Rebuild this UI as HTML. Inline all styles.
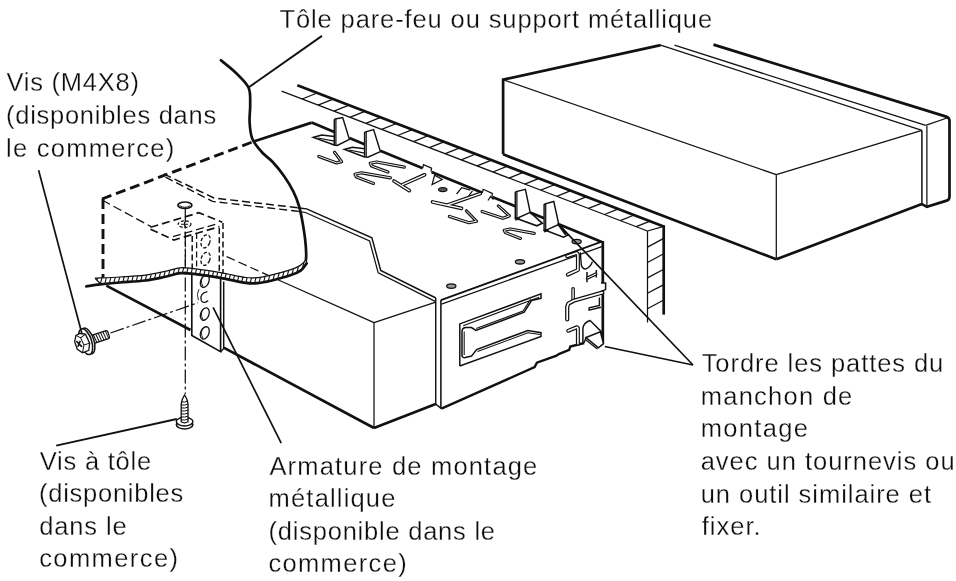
<!DOCTYPE html>
<html lang="fr"><head><meta charset="utf-8"><title>Installation</title>
<style>
html,body{margin:0;padding:0;background:#fff}
svg{display:block}
text{font-family:"Liberation Sans",sans-serif;font-size:25.5px;fill:#0d0d0d;stroke:#fff;stroke-width:0.28px;paint-order:fill stroke}
</style></head><body>
<svg width="956" height="581" viewBox="0 0 956 581">
<rect width="956" height="581" fill="#fff"/>
<g stroke="#111" fill="none">
<polyline points="503.1,154.3 503.1,79.7 660.7,45.1" stroke-width="2.7" fill="none" stroke-linejoin="miter"/>
<line x1="660.7" y1="45.1" x2="921.9" y2="130.4" stroke-width="1.25" stroke-linecap="butt"/>
<line x1="674.5" y1="45.1" x2="925.6" y2="125.4" stroke-width="1.25" stroke-linecap="butt"/>
<path d="M713.5,44.6 L947,116.9 Q949.5,117.8 949.5,121 L949.5,196.5 Q949.5,199.6 947.2,200.6" stroke-width="2.7" fill="none" />
<line x1="925.6" y1="125.4" x2="947" y2="118" stroke-width="1.25" stroke-linecap="butt"/>
<line x1="503.1" y1="79.7" x2="776.3" y2="174.7" stroke-width="1.25" stroke-linecap="butt"/>
<line x1="776.3" y1="174.7" x2="921.9" y2="130.4" stroke-width="1.25" stroke-linecap="butt"/>
<line x1="776.3" y1="174.7" x2="776.3" y2="259.3" stroke-width="1.25" stroke-linecap="butt"/>
<line x1="503.1" y1="154.3" x2="776.3" y2="259.3" stroke-width="2.7" stroke-linecap="butt"/>
<line x1="776.3" y1="259.3" x2="921.9" y2="204.1" stroke-width="2.7" stroke-linecap="butt"/>
<line x1="921.9" y1="130.4" x2="921.9" y2="205" stroke-width="1.5" stroke-linecap="butt"/>
<line x1="926.9" y1="126" x2="926.9" y2="206.6" stroke-width="1.25" stroke-linecap="butt"/>
<polyline points="921.9,204.1 926.9,206.9 947.5,200.4" stroke-width="2.7" fill="none" stroke-linejoin="miter"/>
<line x1="297.3" y1="85.3" x2="663.7" y2="226.4" stroke-width="2.7" stroke-linecap="butt"/>
<line x1="281.6" y1="91.2" x2="647.5" y2="231.0" stroke-width="1.25" stroke-linecap="butt"/>
<line x1="647.5" y1="231.0" x2="663.7" y2="226.4" stroke-width="1.25" stroke-linecap="butt"/>
<line x1="663.7" y1="225.2" x2="663.7" y2="314.6" stroke-width="2.7" stroke-linecap="butt"/>
<line x1="647.5" y1="231" x2="647.5" y2="322.5" stroke-width="1.25" stroke-linecap="butt"/>
<line x1="302.1" y1="99.0" x2="317.3" y2="93.0" stroke-width="1.25" stroke-linecap="butt"/>
<line x1="318.0" y1="105.1" x2="333.1" y2="99.1" stroke-width="1.25" stroke-linecap="butt"/>
<line x1="333.9" y1="111.2" x2="349.0" y2="105.2" stroke-width="1.25" stroke-linecap="butt"/>
<line x1="349.8" y1="117.3" x2="364.8" y2="111.3" stroke-width="1.25" stroke-linecap="butt"/>
<line x1="365.8" y1="123.4" x2="380.6" y2="117.4" stroke-width="1.25" stroke-linecap="butt"/>
<line x1="381.7" y1="129.4" x2="396.5" y2="123.5" stroke-width="1.25" stroke-linecap="butt"/>
<line x1="397.6" y1="135.5" x2="412.3" y2="129.6" stroke-width="1.25" stroke-linecap="butt"/>
<line x1="413.5" y1="141.6" x2="428.2" y2="135.7" stroke-width="1.25" stroke-linecap="butt"/>
<line x1="429.4" y1="147.7" x2="444.0" y2="141.8" stroke-width="1.25" stroke-linecap="butt"/>
<line x1="445.3" y1="153.7" x2="459.9" y2="147.9" stroke-width="1.25" stroke-linecap="butt"/>
<line x1="461.2" y1="159.8" x2="475.7" y2="154.0" stroke-width="1.25" stroke-linecap="butt"/>
<line x1="477.1" y1="165.9" x2="491.6" y2="160.1" stroke-width="1.25" stroke-linecap="butt"/>
<line x1="493.0" y1="172.0" x2="507.4" y2="166.2" stroke-width="1.25" stroke-linecap="butt"/>
<line x1="508.9" y1="178.1" x2="523.3" y2="172.3" stroke-width="1.25" stroke-linecap="butt"/>
<line x1="524.8" y1="184.1" x2="539.1" y2="178.4" stroke-width="1.25" stroke-linecap="butt"/>
<line x1="540.7" y1="190.2" x2="555.0" y2="184.5" stroke-width="1.25" stroke-linecap="butt"/>
<line x1="556.7" y1="196.3" x2="570.8" y2="190.6" stroke-width="1.25" stroke-linecap="butt"/>
<line x1="572.6" y1="202.4" x2="586.7" y2="196.7" stroke-width="1.25" stroke-linecap="butt"/>
<line x1="588.5" y1="208.4" x2="602.5" y2="202.8" stroke-width="1.25" stroke-linecap="butt"/>
<line x1="604.4" y1="214.5" x2="618.4" y2="208.9" stroke-width="1.25" stroke-linecap="butt"/>
<line x1="620.3" y1="220.6" x2="634.2" y2="215.0" stroke-width="1.25" stroke-linecap="butt"/>
<line x1="636.2" y1="226.7" x2="650.1" y2="221.1" stroke-width="1.25" stroke-linecap="butt"/>
<line x1="647.5" y1="247.1" x2="663.7" y2="238.4" stroke-width="1.25" stroke-linecap="butt"/>
<line x1="647.5" y1="262.5" x2="663.7" y2="253.8" stroke-width="1.25" stroke-linecap="butt"/>
<line x1="647.5" y1="277.9" x2="663.7" y2="269.2" stroke-width="1.25" stroke-linecap="butt"/>
<line x1="647.5" y1="293.3" x2="663.7" y2="284.6" stroke-width="1.25" stroke-linecap="butt"/>
<line x1="647.5" y1="308.7" x2="663.7" y2="300.0" stroke-width="1.25" stroke-linecap="butt"/>
<line x1="102" y1="199" x2="253.6" y2="141.5" stroke-width="2.9" stroke-dasharray="10 5" stroke-linecap="butt"/>
<line x1="253.6" y1="141.5" x2="311.7" y2="122.6" stroke-width="2.7" stroke-linecap="butt"/>
<line x1="311.7" y1="122.6" x2="334.3" y2="131.9" stroke-width="2.7" stroke-linecap="butt"/>
<line x1="349.4" y1="138.1" x2="364.4" y2="144.3" stroke-width="2.7" stroke-linecap="butt"/>
<line x1="380.3" y1="150.8" x2="422.7" y2="168.2" stroke-width="2.7" stroke-linecap="butt"/>
<line x1="431.5" y1="171.9" x2="482.4" y2="192.8" stroke-width="2.7" stroke-linecap="butt"/>
<line x1="492.4" y1="196.9" x2="515.3" y2="206.3" stroke-width="2.7" stroke-linecap="butt"/>
<line x1="530.2" y1="212.5" x2="544.1" y2="218.2" stroke-width="2.7" stroke-linecap="butt"/>
<line x1="558.8" y1="224.2" x2="601.8" y2="241.9" stroke-width="2.7" stroke-linecap="butt"/>
<polyline points="422.7,168.2 423.5,164.6 431.6,168.2 431.0,171.7" stroke-width="1.25" fill="none" stroke-linejoin="miter"/>
<polyline points="482.4,192.8 483.2,189.3 492.3,193.4 492.0,196.7" stroke-width="1.25" fill="none" stroke-linejoin="miter"/>
<polygon points="334.3,119.8 335.3,119 342.7,117.6 349.4,139.3 337.2,145.4 334.3,145.1" stroke-width="1.45" fill="#fff" stroke-linejoin="miter"/>
<line x1="335.90000000000003" y1="119.2" x2="335.90000000000003" y2="145.4" stroke-width="1.25" stroke-linecap="butt"/>
<polyline points="334.3,145.1 313.3,137.4 321.6,135.0 334.3,136.4" stroke-width="1.55" fill="none" stroke-linejoin="miter"/>
<line x1="317.8" y1="138.0" x2="334.3" y2="141.12" stroke-width="1.25" stroke-linecap="butt"/>
<polygon points="364.6,132.60000000000002 365.6,131.8 373.6,129.6 380.4,151.6 367.8,157.2 364.6,156.89999999999998" stroke-width="1.45" fill="#fff" stroke-linejoin="miter"/>
<line x1="366.20000000000005" y1="132.0" x2="366.20000000000005" y2="157.2" stroke-width="1.25" stroke-linecap="butt"/>
<polyline points="364.6,156.89999999999998 344.5,149.4 352.3,147.3 364.6,148.70000000000002" stroke-width="1.55" fill="none" stroke-linejoin="miter"/>
<line x1="349.0" y1="150.0" x2="364.6" y2="153.048" stroke-width="1.25" stroke-linecap="butt"/>
<polygon points="515.3,192.4 516.3,191.6 525.4,189.4 530.2,212.4 517.8000000000001,218.0 515.3,217.7" stroke-width="1.45" fill="#fff" stroke-linejoin="miter"/>
<line x1="516.9" y1="191.79999999999998" x2="516.9" y2="218.0" stroke-width="1.25" stroke-linecap="butt"/>
<polyline points="515.3,217.7 515.3,218.0 515.3,218.0 515.3,219.4" stroke-width="1.55" fill="none" stroke-linejoin="miter"/>
<line x1="519.8" y1="218.6" x2="515.3" y2="220.04" stroke-width="1.25" stroke-linecap="butt"/>
<polygon points="544.1,204.60000000000002 545.1,203.8 553.8,201.5 558.8,224.5 546.8000000000001,229.8 544.1,229.5" stroke-width="1.45" fill="#fff" stroke-linejoin="miter"/>
<line x1="545.7" y1="204.0" x2="545.7" y2="229.8" stroke-width="1.25" stroke-linecap="butt"/>
<polyline points="544.1,229.5 544.1,229.8 544.1,229.8 544.1,231.20000000000002" stroke-width="1.55" fill="none" stroke-linejoin="miter"/>
<line x1="548.6" y1="230.4" x2="544.1" y2="231.84" stroke-width="1.25" stroke-linecap="butt"/>
<polyline points="515.3,218 536.8,225.8 542.4,223.3 530.2,212.4" stroke-width="1.55" fill="none" stroke-linejoin="miter"/>
<polyline points="544.1,229.8 563.5,237.2 568,235 558.8,224.5" stroke-width="1.55" fill="none" stroke-linejoin="miter"/>
<line x1="558.8" y1="224.5" x2="566" y2="234.5" stroke-width="2.7" stroke-linecap="butt"/>
<path d="M318.8,156.4 L336.6,162.9 L341.6,161.6 L334.5,152.2" stroke="#111" stroke-width="3.2" fill="none" stroke-linecap="round" stroke-linejoin="round"/>
<path d="M318.8,156.4 L336.6,162.9 L341.6,161.6 L334.5,152.2" stroke="#fff" stroke-width="0.95" fill="none" stroke-linecap="round" stroke-linejoin="round"/>
<path d="M404.3,167.1 L376.6,162.0 L370.2,163.2 L371.5,166.0 L387.9,172.1" stroke="#111" stroke-width="3.2" fill="none" stroke-linecap="round" stroke-linejoin="round"/>
<path d="M404.3,167.1 L376.6,162.0 L370.2,163.2 L371.5,166.0 L387.9,172.1" stroke="#fff" stroke-width="0.95" fill="none" stroke-linecap="round" stroke-linejoin="round"/>
<path d="M390.4,177.8 L361.5,172.8 L355.0,174.2 L356.4,177.0 L373.5,183.4" stroke="#111" stroke-width="3.2" fill="none" stroke-linecap="round" stroke-linejoin="round"/>
<path d="M390.4,177.8 L361.5,172.8 L355.0,174.2 L356.4,177.0 L373.5,183.4" stroke="#fff" stroke-width="0.95" fill="none" stroke-linecap="round" stroke-linejoin="round"/>
<path d="M424.6,174.8 L402.6,184.6 M394.0,181.0 L409.3,190.6" stroke="#111" stroke-width="3.7" fill="none" stroke-linecap="round" stroke-linejoin="round"/>
<path d="M424.6,174.8 L402.6,184.6 M394.0,181.0 L409.3,190.6" stroke="#fff" stroke-width="1.3" fill="none" stroke-linecap="round" stroke-linejoin="round"/>
<polygon points="434.6,175.1 432.1,184.6 442.2,179.5" stroke-width="1.25" fill="none" stroke-linejoin="miter"/>
<ellipse cx="442.8" cy="189.6" rx="4.2" ry="2.1" stroke-width="1.2" fill="#555" transform="rotate(0 442.8 189.6)"/>
<polyline points="456.6,194 461.7,187.7 470.4,190.2" stroke-width="1.25" fill="none" stroke-linejoin="miter"/>
<polyline points="472.5,190.8 466,199.5" stroke-width="1.25" fill="none" stroke-linejoin="miter"/>
<path d="M480.3,193.6 L447.0,205.2 M432.6,202.0 L461.5,208.4" stroke="#111" stroke-width="3.7" fill="none" stroke-linecap="round" stroke-linejoin="round"/>
<path d="M480.3,193.6 L447.0,205.2 M432.6,202.0 L461.5,208.4" stroke="#fff" stroke-width="1.3" fill="none" stroke-linecap="round" stroke-linejoin="round"/>
<polyline points="488,200.5 490.5,196.5 493.5,199.5" stroke-width="1.25" fill="none" stroke-linejoin="miter"/>
<path d="M449.4,216.4 L468.9,222.7 L476.6,221.3 L466.4,210.8" stroke="#111" stroke-width="3.2" fill="none" stroke-linecap="round" stroke-linejoin="round"/>
<path d="M449.4,216.4 L468.9,222.7 L476.6,221.3 L466.4,210.8" stroke="#fff" stroke-width="0.95" fill="none" stroke-linecap="round" stroke-linejoin="round"/>
<path d="M482.1,211.4 L502.8,218.3 L509.4,215.9 L498.4,205.9" stroke="#111" stroke-width="3.2" fill="none" stroke-linecap="round" stroke-linejoin="round"/>
<path d="M482.1,211.4 L502.8,218.3 L509.4,215.9 L498.4,205.9" stroke="#fff" stroke-width="0.95" fill="none" stroke-linecap="round" stroke-linejoin="round"/>
<path d="M534.2,233.4 L510.4,229.0 L504.2,230.2 L505.4,232.6 L520.4,238.4" stroke="#111" stroke-width="3.2" fill="none" stroke-linecap="round" stroke-linejoin="round"/>
<path d="M534.2,233.4 L510.4,229.0 L504.2,230.2 L505.4,232.6 L520.4,238.4" stroke="#fff" stroke-width="0.95" fill="none" stroke-linecap="round" stroke-linejoin="round"/>
<ellipse cx="451.3" cy="286.1" rx="4.6" ry="2.2" stroke-width="1.3" fill="#999" transform="rotate(0 451.3 286.1)"/>
<ellipse cx="520" cy="261.8" rx="4.6" ry="2.2" stroke-width="1.3" fill="#999" transform="rotate(0 520 261.8)"/>
<ellipse cx="576.6" cy="241.6" rx="4.6" ry="2.2" stroke-width="1.3" fill="#999" transform="rotate(0 576.6 241.6)"/>
<polyline points="297.8,207.7 306.6,208.9 371.9,237.8 380.7,270.4 435.9,298" stroke-width="1.45" fill="none" stroke-linejoin="miter"/>
<polyline points="297.8,211.3 305.4,212.5 369.6,241.0 378.2,272.9 435.7,301.6" stroke-width="1.25" fill="none" stroke-linejoin="miter"/>
<polyline points="163.7,173.9 213.9,198 297.8,207.7" stroke-width="1.5" stroke-dasharray="8 4" fill="none" stroke-linejoin="miter"/>
<polyline points="165.5,177.2 212.5,201.4 297.8,211.3" stroke-width="1.4" stroke-dasharray="8 4" fill="none" stroke-linejoin="miter"/>
<line x1="601.8" y1="241.6" x2="440.9" y2="300.1" stroke-width="1.75" stroke-linecap="butt"/>
<line x1="602.5" y1="246.3" x2="441.5" y2="304.2" stroke-width="1.25" stroke-linecap="butt"/>
<line x1="602.8" y1="241" x2="602.8" y2="343" stroke-width="2.7" stroke-linecap="butt"/>
<line x1="435.7" y1="298" x2="435.7" y2="404" stroke-width="1.45" stroke-linecap="butt"/>
<line x1="440.9" y1="300.1" x2="440.9" y2="408.6" stroke-width="1.55" stroke-linecap="butt"/>
<line x1="435.7" y1="404" x2="441.4" y2="408.6" stroke-width="1.55" stroke-linecap="butt"/>
<polyline points="441.4,408.6 534.6,367.2 536.9,362.6 556.5,355.7 558.8,354.1 569.2,349.9 570.3,346.5 584.1,343" stroke-width="2.4000000000000004" fill="none" stroke-linejoin="miter"/>
<path d="M459.8,366 L459.8,323.9 L541,293.9 L541,298.3 L531.5,300.5 L524.2,312.2 L475.9,330.5 L471.5,327.6 L465.5,327.6 Q462,328.2 462,331.8 L462,355.4 Q462.3,358 465.2,357.6 L471.5,356.1 L476.6,349.6 L527.9,330.5 L541,332.7 L541,336.4 L459.8,366" stroke-width="1.5" fill="none" />
<path d="M463.2,325.8 L539,297.2 M530.5,299.3 L523,311 L476.2,328.6" stroke-width="1.05" fill="none" />
<path d="M464.2,331.5 L464.2,355 M477.5,351.5 L528,332.8 L540,334.6" stroke-width="1.05" fill="none" />
<path d="M567.2,256.3 L576.7,252.9 L577.9,254.5 L577.9,270.0 L567.9,274.6" stroke="#111" stroke-width="4.0" fill="none" stroke-linecap="round" stroke-linejoin="round"/>
<path d="M567.2,256.3 L576.7,252.9 L577.9,254.5 L577.9,270.0 L567.9,274.6" stroke="#fff" stroke-width="1.6" fill="none" stroke-linecap="round" stroke-linejoin="round"/>
<path d="M580.3,252.4 L581.3,265.0 Q582.5,269.4 586,268.9 Q590.4,267.2 592.4,261.8" stroke-width="1.4" fill="none" />
<path d="M587,272 L587,282.3 M596.3,270 L596.3,277.4" stroke-width="1.5" fill="none" />
<path d="M587.6,278.0 L595.8,274.0" stroke="#111" stroke-width="3.2" fill="none" stroke-linecap="round" stroke-linejoin="round"/>
<path d="M587.6,278.0 L595.8,274.0" stroke="#fff" stroke-width="1.0" fill="none" stroke-linecap="round" stroke-linejoin="round"/>
<polyline points="601,283.0 605.6,283.0 605.6,289.6 601,291.4" stroke-width="1.5" fill="#fff" stroke-linejoin="miter"/>
<path d="M573.1,288.8 L573.1,299.5" stroke="#111" stroke-width="3.6" fill="none" stroke-linecap="round" stroke-linejoin="round"/>
<path d="M573.1,288.8 L573.1,299.5" stroke="#fff" stroke-width="1.3" fill="none" stroke-linecap="round" stroke-linejoin="round"/>
<path d="M602.3,292.6 L573.6,300.8 L568.4,303.6 L567.2,306.8 L567.2,319.4" stroke="#111" stroke-width="4.2" fill="none" stroke-linecap="round" stroke-linejoin="round"/>
<path d="M602.3,292.6 L573.6,300.8 L568.4,303.6 L567.2,306.8 L567.2,319.4" stroke="#fff" stroke-width="1.7" fill="none" stroke-linecap="round" stroke-linejoin="round"/>
<polyline points="599.4,297.5 599.4,305.5 589.1,307.8 589.1,310.2 601,307.2" stroke-width="1.4" fill="none" stroke-linejoin="miter"/>
<path d="M568.2,330.8 L577.0,327.2 L577.9,328.0 L577.9,343.7" stroke="#111" stroke-width="4.0" fill="none" stroke-linecap="round" stroke-linejoin="round"/>
<path d="M568.2,330.8 L577.0,327.2 L577.9,328.0 L577.9,343.7" stroke="#fff" stroke-width="1.6" fill="none" stroke-linecap="round" stroke-linejoin="round"/>
<path d="M582.9,342.5 L582.9,328.2 Q583.6,322.6 590.1,320.5 L600.4,330.8 L603.3,335.4" stroke-width="1.5" fill="none" />
<polygon points="586,337.5 600.4,331.8 603.5,343.7 598.4,347.8" stroke-width="1.5" fill="#fff" stroke-linejoin="miter"/>
<line x1="585.0" y1="339.2" x2="597.4" y2="349.0" stroke-width="1.3" stroke-linecap="butt"/>
<line x1="584.1" y1="343" x2="586" y2="337.5" stroke-width="1.25" stroke-linecap="butt"/>
<line x1="374" y1="322.6" x2="374" y2="428" stroke-width="1.25" stroke-linecap="butt"/>
<line x1="274" y1="278" x2="374" y2="322.6" stroke-width="1.25" stroke-linecap="butt"/>
<line x1="102" y1="200" x2="151" y2="226.6" stroke-width="1.25" stroke-dasharray="9 4" stroke-linecap="butt"/>
<line x1="374" y1="322.6" x2="435.7" y2="302.2" stroke-width="1.25" stroke-linecap="butt"/>
<line x1="374" y1="428" x2="435.7" y2="404" stroke-width="2.7" stroke-linecap="butt"/>
<line x1="106.4" y1="285.6" x2="190.5" y2="330.0" stroke-width="2.7" stroke-linecap="butt"/>
<line x1="223.7" y1="347.6" x2="374" y2="428" stroke-width="2.7" stroke-linecap="butt"/>
<line x1="103" y1="199" x2="103" y2="278" stroke-width="2.9" stroke-dasharray="10 5" stroke-linecap="butt"/>
<line x1="226.6" y1="256.6" x2="274" y2="278" stroke-width="1.25" stroke-dasharray="9 4" stroke-linecap="butt"/>
<path d="M220.9,60.3 C223.4,62.4 231.4,68.5 236,73 C240.6,77.5 246.1,82.3 248.5,87.5 C250.9,92.7 250.0,98.2 250.2,104 C250.4,109.8 249.2,116.2 249.6,122 C249.9,127.8 250.3,133.8 252.3,138.8 C254.3,143.8 258.3,148.1 261.7,152 C265.1,155.9 269.0,158.0 272.7,162 C276.4,166.0 280.6,171.1 284,176 C287.4,180.9 290.9,186.6 293.4,191.6 C295.9,196.6 297.5,200.9 299,206 C300.5,211.1 301.5,216.3 302.5,222 C303.5,227.7 304.6,234.7 305.2,240 C305.8,245.3 306.1,250.2 306.2,254 C306.3,257.8 305.7,261.1 305.6,262.5" stroke-width="2.7" fill="none" stroke-linecap="round"/>
<clipPath id="hc"><path d="M95.1,278.2 C99.2,278.0 111.6,277.5 120,277 C128.4,276.5 137.7,276.0 145.3,275.1 C152.9,274.2 159.5,272.6 165.4,271.4 C171.3,270.2 175.5,268.2 180.5,267.8 C185.5,267.4 188.8,268.1 195.5,268.9 C202.2,269.7 212.2,271.2 220.6,272.6 C229.0,274.0 239.6,276.7 245.8,277.5 C252.0,278.3 253.8,278.0 258,277.6 C262.2,277.2 265.4,276.4 270.9,275.1 C276.4,273.8 286.0,271.2 290.9,269.6 C295.8,268.0 297.6,267.1 300,265.6 C302.4,264.1 304.7,261.4 305.6,260.5 L306.6,263.4 L301,270.3 L290.9,275.1 L270.9,280.8 L258,283.1 L245.8,282.9 L220.6,277.8 L195.5,274.1 L180.5,273.2 L165.4,276.8 L145.3,280.5 L120,282.5 L100.1,284.3 Z"/></clipPath>
<path d="M95.1,278.2 C99.2,278.0 111.6,277.5 120,277 C128.4,276.5 137.7,276.0 145.3,275.1 C152.9,274.2 159.5,272.6 165.4,271.4 C171.3,270.2 175.5,268.2 180.5,267.8 C185.5,267.4 188.8,268.1 195.5,268.9 C202.2,269.7 212.2,271.2 220.6,272.6 C229.0,274.0 239.6,276.7 245.8,277.5 C252.0,278.3 253.8,278.0 258,277.6 C262.2,277.2 265.4,276.4 270.9,275.1 C276.4,273.8 286.0,271.2 290.9,269.6 C295.8,268.0 297.6,267.1 300,265.6 C302.4,264.1 304.7,261.4 305.6,260.5 L306.6,263.4 L301,270.3 L290.9,275.1 L270.9,280.8 L258,283.1 L245.8,282.9 L220.6,277.8 L195.5,274.1 L180.5,273.2 L165.4,276.8 L145.3,280.5 L120,282.5 L100.1,284.3 Z" fill="#fff" stroke="none"/>
<g clip-path="url(#hc)" stroke-width="1.1"><line x1="90" y1="290" x2="99" y2="255"/><line x1="94.4" y1="290" x2="103.4" y2="255"/><line x1="98.80000000000001" y1="290" x2="107.80000000000001" y2="255"/><line x1="103.20000000000002" y1="290" x2="112.20000000000002" y2="255"/><line x1="107.60000000000002" y1="290" x2="116.60000000000002" y2="255"/><line x1="112.00000000000003" y1="290" x2="121.00000000000003" y2="255"/><line x1="116.40000000000003" y1="290" x2="125.40000000000003" y2="255"/><line x1="120.80000000000004" y1="290" x2="129.80000000000004" y2="255"/><line x1="125.20000000000005" y1="290" x2="134.20000000000005" y2="255"/><line x1="129.60000000000005" y1="290" x2="138.60000000000005" y2="255"/><line x1="134.00000000000006" y1="290" x2="143.00000000000006" y2="255"/><line x1="138.40000000000006" y1="290" x2="147.40000000000006" y2="255"/><line x1="142.80000000000007" y1="290" x2="151.80000000000007" y2="255"/><line x1="147.20000000000007" y1="290" x2="156.20000000000007" y2="255"/><line x1="151.60000000000008" y1="290" x2="160.60000000000008" y2="255"/><line x1="156.00000000000009" y1="290" x2="165.00000000000009" y2="255"/><line x1="160.4000000000001" y1="290" x2="169.4000000000001" y2="255"/><line x1="164.8000000000001" y1="290" x2="173.8000000000001" y2="255"/><line x1="169.2000000000001" y1="290" x2="178.2000000000001" y2="255"/><line x1="173.6000000000001" y1="290" x2="182.6000000000001" y2="255"/><line x1="178.0000000000001" y1="290" x2="187.0000000000001" y2="255"/><line x1="182.40000000000012" y1="290" x2="191.40000000000012" y2="255"/><line x1="186.80000000000013" y1="290" x2="195.80000000000013" y2="255"/><line x1="191.20000000000013" y1="290" x2="200.20000000000013" y2="255"/><line x1="195.60000000000014" y1="290" x2="204.60000000000014" y2="255"/><line x1="200.00000000000014" y1="290" x2="209.00000000000014" y2="255"/><line x1="204.40000000000015" y1="290" x2="213.40000000000015" y2="255"/><line x1="208.80000000000015" y1="290" x2="217.80000000000015" y2="255"/><line x1="213.20000000000016" y1="290" x2="222.20000000000016" y2="255"/><line x1="217.60000000000016" y1="290" x2="226.60000000000016" y2="255"/><line x1="222.00000000000017" y1="290" x2="231.00000000000017" y2="255"/><line x1="226.40000000000018" y1="290" x2="235.40000000000018" y2="255"/><line x1="230.80000000000018" y1="290" x2="239.80000000000018" y2="255"/><line x1="235.2000000000002" y1="290" x2="244.2000000000002" y2="255"/><line x1="239.6000000000002" y1="290" x2="248.6000000000002" y2="255"/><line x1="244.0000000000002" y1="290" x2="253.0000000000002" y2="255"/><line x1="248.4000000000002" y1="290" x2="257.4000000000002" y2="255"/><line x1="252.8000000000002" y1="290" x2="261.8000000000002" y2="255"/><line x1="257.2000000000002" y1="290" x2="266.2000000000002" y2="255"/><line x1="261.6000000000002" y1="290" x2="270.6000000000002" y2="255"/><line x1="266.00000000000017" y1="290" x2="275.00000000000017" y2="255"/><line x1="270.40000000000015" y1="290" x2="279.40000000000015" y2="255"/><line x1="274.8000000000001" y1="290" x2="283.8000000000001" y2="255"/><line x1="279.2000000000001" y1="290" x2="288.2000000000001" y2="255"/><line x1="283.6000000000001" y1="290" x2="292.6000000000001" y2="255"/><line x1="288.00000000000006" y1="290" x2="297.00000000000006" y2="255"/><line x1="292.40000000000003" y1="290" x2="301.40000000000003" y2="255"/><line x1="296.8" y1="290" x2="305.8" y2="255"/><line x1="301.2" y1="290" x2="310.2" y2="255"/><line x1="305.59999999999997" y1="290" x2="314.59999999999997" y2="255"/><line x1="309.99999999999994" y1="290" x2="318.99999999999994" y2="255"/><line x1="314.3999999999999" y1="290" x2="323.3999999999999" y2="255"/></g>
<path d="M95.1,278.2 C99.2,278.0 111.6,277.5 120,277 C128.4,276.5 137.7,276.0 145.3,275.1 C152.9,274.2 159.5,272.6 165.4,271.4 C171.3,270.2 175.5,268.2 180.5,267.8 C185.5,267.4 188.8,268.1 195.5,268.9 C202.2,269.7 212.2,271.2 220.6,272.6 C229.0,274.0 239.6,276.7 245.8,277.5 C252.0,278.3 253.8,278.0 258,277.6 C262.2,277.2 265.4,276.4 270.9,275.1 C276.4,273.8 286.0,271.2 290.9,269.6 C295.8,268.0 297.6,267.1 300,265.6 C302.4,264.1 304.7,261.4 305.6,260.5" stroke-width="1.25" fill="none"/>
<path d="M86.3,286.3 C88.6,286.0 94.5,284.9 100.1,284.3 C105.7,283.7 112.5,283.1 120,282.5 C127.5,281.9 137.7,281.4 145.3,280.5 C152.9,279.6 159.5,278.0 165.4,276.8 C171.3,275.6 175.5,273.6 180.5,273.2 C185.5,272.8 188.8,273.3 195.5,274.1 C202.2,274.9 212.2,276.3 220.6,277.8 C229.0,279.3 239.6,282.0 245.8,282.9 C252.0,283.8 253.8,283.5 258,283.1 C262.2,282.8 265.4,282.1 270.9,280.8 C276.4,279.5 285.9,276.9 290.9,275.1 C295.9,273.4 298.4,272.2 301,270.3 C303.6,268.4 305.7,264.5 306.6,263.4" stroke-width="2.7" fill="none" stroke-linecap="round"/>
<line x1="95.1" y1="278.2" x2="100.1" y2="283.4" stroke-width="1.25" stroke-linecap="butt"/>
<polyline points="191.8,274.5 191.8,335.4 220.6,351.7 220.6,277.5" stroke-width="1.65" fill="none" stroke-linejoin="miter"/>
<polyline points="220.6,351.7 223.7,348.5 223.7,281.5" stroke-width="1.45" fill="none" stroke-linejoin="miter"/>
<ellipse cx="204.8" cy="281.2" rx="4.1" ry="6.4" stroke-width="1.3" fill="none" transform="rotate(22 204.8 281.2)"/>
<path d="M203.4,276.2 Q199.6,280.7 203.0,286.59999999999997" stroke-width="0.9" fill="none"/>
<path d="M207.4,291.59999999999997 Q199.4,293.2 201.2,300.2 Q203.2,304.59999999999997 208.2,300.4" stroke-width="1.3" fill="none"/>
<path d="M199.0,289.2 Q196,294.2 198.4,300.2" stroke-width="0.9" fill="none"/>
<ellipse cx="204.8" cy="314.1" rx="4.1" ry="6.4" stroke-width="1.3" fill="none" transform="rotate(22 204.8 314.1)"/>
<path d="M203.4,309.1 Q199.6,313.6 203.0,319.5" stroke-width="0.9" fill="none"/>
<ellipse cx="204.8" cy="332.9" rx="4.1" ry="6.4" stroke-width="1.3" fill="none" transform="rotate(22 204.8 332.9)"/>
<path d="M203.4,327.9 Q199.6,332.4 203.0,338.29999999999995" stroke-width="0.9" fill="none"/>
<line x1="185.4" y1="232" x2="185.4" y2="266" stroke-width="1.25" stroke-dasharray="6 3.2" stroke-linecap="butt"/>
<line x1="192.2" y1="236" x2="192.2" y2="268" stroke-width="1.5" stroke-dasharray="6 3.2" stroke-linecap="butt"/>
<line x1="196.6" y1="233" x2="196.6" y2="268" stroke-width="1.25" stroke-dasharray="6 3.2" stroke-linecap="butt"/>
<line x1="219.3" y1="228" x2="219.3" y2="271" stroke-width="1.5" stroke-dasharray="6 3.2" stroke-linecap="butt"/>
<line x1="223.0" y1="223" x2="223.0" y2="273" stroke-width="1.5" stroke-dasharray="6 3.2" stroke-linecap="butt"/>
<ellipse cx="205.6" cy="241.3" rx="4.3" ry="6.8" stroke-width="1.3" fill="none" stroke-dasharray="3.4 2" transform="rotate(20 205.6 241.3)"/>
<ellipse cx="205.6" cy="258.8" rx="4.3" ry="6.8" stroke-width="1.3" fill="none" stroke-dasharray="3.4 2" transform="rotate(20 205.6 258.8)"/>
<polyline points="150.5,227.3 198.8,212.7 222.3,222.2" stroke-width="1.7" stroke-dasharray="8 4" fill="none" stroke-linejoin="miter"/>
<polyline points="150.5,229.2 173.9,240.0 219.5,226.6" stroke-width="1.7" stroke-dasharray="8 4" fill="none" stroke-linejoin="miter"/>
<line x1="173.0" y1="236.6" x2="215.5" y2="224.3" stroke-width="1.25" stroke-dasharray="8 4" stroke-linecap="butt"/>
<ellipse cx="184.6" cy="224.2" rx="6.4" ry="3.3" stroke-width="1.2" fill="none" stroke-dasharray="3 1.8" transform="rotate(0 184.6 224.2)"/>
<path d="M181,224.2 L188.2,224.2 M184.6,221.8 L184.6,226.6" stroke-width="1.1" fill="none" />
<ellipse cx="184.9" cy="205.2" rx="7.0" ry="3.2" stroke-width="1.7" fill="none" transform="rotate(0 184.9 205.2)"/>
<path d="M179.6,205.6 Q184.9,209.0 190.2,205.6" stroke-width="0.9" fill="none" />
<line x1="185.3" y1="208.6" x2="185.3" y2="394" stroke-width="1.25" stroke-dasharray="14 3 3 3" stroke-linecap="butt"/>
<line x1="110.5" y1="333.0" x2="198" y2="302.8" stroke-width="1.25" stroke-dasharray="14 3 3 3" stroke-linecap="butt"/>
<g transform="translate(85.6,341.7) rotate(-18)">
<path d="M6,-4.2 L22,-4.2 Q24.2,-4.2 24.2,-2 L24.2,2 Q24.2,4.2 22,4.2 L6,4.2 Z" fill="#fff" stroke-width="1.3"/>
<line x1="9.5" y1="-4.2" x2="10.5" y2="4.2" stroke-width="1.0"/>
<line x1="12.0" y1="-4.2" x2="13.0" y2="4.2" stroke-width="1.0"/>
<line x1="14.5" y1="-4.2" x2="15.5" y2="4.2" stroke-width="1.0"/>
<line x1="17.0" y1="-4.2" x2="18.0" y2="4.2" stroke-width="1.0"/>
<line x1="19.5" y1="-4.2" x2="20.5" y2="4.2" stroke-width="1.0"/>
<line x1="22.0" y1="-4.2" x2="23.0" y2="4.2" stroke-width="1.0"/>
<ellipse cx="2.4" cy="0" rx="6.0" ry="13.4" fill="#fff" stroke-width="1.5"/>
<ellipse cx="0" cy="0" rx="6.0" ry="13.4" fill="#fff" stroke-width="1.5"/>
<path d="M-3,-9.6 L2.2,-7.2 L3.4,2.6 L0.4,9.2 L-6.4,9.6 L-10.2,4.6 L-10.4,-3.4 L-7.2,-9.0 Z" fill="#fff" stroke-width="1.3"/>
<path d="M-7.2,-9.0 L-3.6,-5.2 L-2.6,2.6 L-6.4,9.6 M-3.6,-5.2 L2.2,-7.2 M-2.6,2.6 L3.4,2.6" fill="none" stroke-width="1.0"/>
<path d="M-8.6,-3.4 L-5.0,3.8 M-9.0,2.4 L-4.8,-2.4" fill="none" stroke-width="1.6"/>
</g>
<ellipse cx="184.6" cy="424.6" rx="8.3" ry="4.3" fill="#fff" stroke-width="1.5"/>
<ellipse cx="184.6" cy="421.6" rx="8.3" ry="4.3" fill="#fff" stroke-width="1.5"/>
<path d="M181.2,421.8 L181.2,404 Q182.2,398 184.6,394.8 Q187,398 188,404 L188,421.8 Q184.6,423.8 181.2,421.8 Z" fill="#fff" stroke-width="1.3"/>
<path d="M181,401.8 Q184.6,402.8 188.2,401.0" fill="none" stroke-width="1.0"/>
<path d="M181,404.8 Q184.6,405.8 188.2,404.0" fill="none" stroke-width="1.0"/>
<path d="M181,407.8 Q184.6,408.8 188.2,407.0" fill="none" stroke-width="1.0"/>
<path d="M181,410.8 Q184.6,411.8 188.2,410.0" fill="none" stroke-width="1.0"/>
<path d="M181,413.8 Q184.6,414.8 188.2,413.0" fill="none" stroke-width="1.0"/>
<path d="M181,416.8 Q184.6,417.8 188.2,416.0" fill="none" stroke-width="1.0"/>
<path d="M181,419.8 Q184.6,420.8 188.2,419.0" fill="none" stroke-width="1.0"/>
<line x1="322" y1="35.9" x2="248.5" y2="87.5" stroke-width="1.9" stroke-linecap="butt"/>
<line x1="38.6" y1="170.3" x2="82" y2="334" stroke-width="1.7" stroke-linecap="butt"/>
<line x1="56.2" y1="445.6" x2="176.8" y2="419" stroke-width="1.9" stroke-linecap="butt"/>
<line x1="213.1" y1="307.3" x2="281.2" y2="443.1" stroke-width="1.7" stroke-linecap="butt"/>
<line x1="557.6" y1="223.3" x2="693" y2="365" stroke-width="1.7" stroke-linecap="butt"/>
<line x1="604.8" y1="346.5" x2="693" y2="365" stroke-width="1.7" stroke-linecap="butt"/>
</g>
<g style="filter:grayscale(1)">
<text x="279.5" y="28.2" textLength="432.6" lengthAdjust="spacing">Tôle pare-feu ou support métallique</text>
<text x="6.5" y="91.4" textLength="132.5" lengthAdjust="spacing">Vis (M4X8)</text>
<text x="6.0" y="124" textLength="210.2" lengthAdjust="spacing">(disponibles dans</text>
<text x="6.0" y="156.6" textLength="168.3" lengthAdjust="spacing">le commerce)</text>
<text x="39.8" y="469.6" textLength="111.3" lengthAdjust="spacing">Vis à tôle</text>
<text x="39.0" y="502.2" textLength="144.2" lengthAdjust="spacing">(disponibles</text>
<text x="39.2" y="534.8" textLength="87.4" lengthAdjust="spacing">dans le</text>
<text x="39.2" y="567.4" textLength="138.8" lengthAdjust="spacing">commerce)</text>
<text x="269.4" y="474.6" textLength="267.9" lengthAdjust="spacing">Armature de montage</text>
<text x="268.6" y="507.2" textLength="126.8" lengthAdjust="spacing">métallique</text>
<text x="268.6" y="539.8" textLength="226.4" lengthAdjust="spacing">(disponible dans le</text>
<text x="268.4" y="572.4" textLength="138.3" lengthAdjust="spacing">commerce)</text>
<text x="701.7" y="372.2" textLength="241.6" lengthAdjust="spacing">Tordre les pattes du</text>
<text x="700.7" y="404.8" textLength="151.6" lengthAdjust="spacing">manchon de</text>
<text x="700.7" y="437.4" textLength="107.3" lengthAdjust="spacing">montage</text>
<text x="700.7" y="470" textLength="253.9" lengthAdjust="spacing">avec un tournevis ou</text>
<text x="700.7" y="502.6" textLength="230.3" lengthAdjust="spacing">un outil similaire et</text>
<text x="701.7" y="535.2" textLength="58.9" lengthAdjust="spacing">fixer.</text>
</g>
</svg>
</body></html>
